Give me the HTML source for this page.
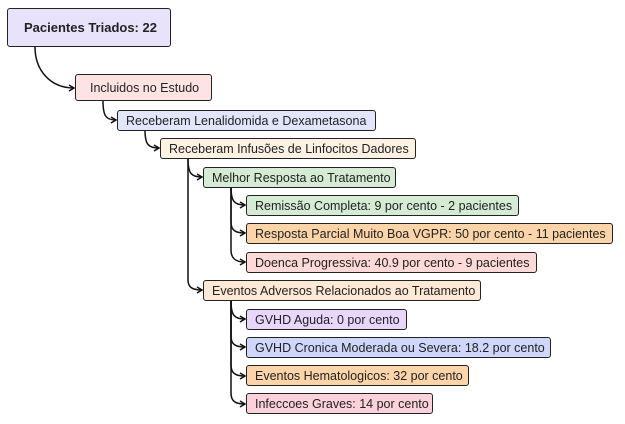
<!DOCTYPE html>
<html><head><meta charset="utf-8"><style>
body{margin:0;width:625px;height:424px;background:#fff;position:relative;overflow:hidden;font-family:"Liberation Sans",Arial,sans-serif}
.b{position:absolute;box-sizing:border-box;border:1.5px solid #222;border-radius:3px;font-size:12.5px;color:#222;padding-left:8px;display:flex;align-items:center;white-space:nowrap}
svg{position:absolute;left:0;top:0}
</style></head><body>
<svg width="625" height="424" fill="none" stroke="#111" stroke-width="1.5">
<defs><marker id="a" markerWidth="8" markerHeight="8" refX="6" refY="4" orient="auto" markerUnits="userSpaceOnUse"><path d="M1,1 L6,4 L1,7" stroke="#111" stroke-width="1.5" fill="none"/></marker></defs>
<path d="M35,47 C35,70 50,88 74,88" marker-end="url(#a)"/>
<path d="M103,101 C103,116 106,120 116,120" marker-end="url(#a)"/>
<path d="M145,130 C145,144 148,148 159,148" marker-end="url(#a)"/>
<path d="M188,159 C188,173 191,177 202,177" marker-end="url(#a)"/>
<path d="M188,159 L188,280 C188,287 192,290 202,290" marker-end="url(#a)"/>
<path d="M231,187 C231,201 234,205 245,205" marker-end="url(#a)"/>
<path d="M231,187 L231,222 C231,230 235,233 245,233" marker-end="url(#a)"/>
<path d="M231,187 L231,250 C231,258 235,262 245,262" marker-end="url(#a)"/>
<path d="M231,301 C231,315 234,319 245,319" marker-end="url(#a)"/>
<path d="M231,301 L231,336 C231,344 235,347 245,347" marker-end="url(#a)"/>
<path d="M231,301 L231,365 C231,373 235,376 245,376" marker-end="url(#a)"/>
<path d="M231,301 L231,393 C231,401 235,404 245,404" marker-end="url(#a)"/>
</svg>
<div class="b" style="left:7px;top:8px;width:164px;height:39px;background:#e9e2fb;font-weight:bold;font-size:13px;padding-left:16px">Pacientes Triados: 22</div>
<div class="b" style="left:75px;top:74px;width:137px;height:27px;background:#fde4e2;padding-left:14px">Incluidos no Estudo</div>
<div class="b" style="left:117px;top:110px;width:259px;height:21px;background:#e3e6fb">Receberam Lenalidomida e Dexametasona</div>
<div class="b" style="left:160px;top:138px;width:256px;height:21px;background:#fcf1e2">Receberam Infusões de Linfocitos Dadores</div>
<div class="b" style="left:203px;top:167px;width:193px;height:21px;background:#d5ebd4">Melhor Resposta ao Tratamento</div>
<div class="b" style="left:246px;top:195px;width:273px;height:21px;background:#d5ebd4">Remissão Completa: 9 por cento - 2 pacientes</div>
<div class="b" style="left:246px;top:223px;width:367px;height:21px;background:#fbd4aa">Resposta Parcial Muito Boa VGPR: 50 por cento - 11 pacientes</div>
<div class="b" style="left:246px;top:252px;width:291px;height:21px;background:#fdd9d7">Doenca Progressiva: 40.9 por cento - 9 pacientes</div>
<div class="b" style="left:203px;top:280px;width:278px;height:21px;background:#fde9d5">Eventos Adversos Relacionados ao Tratamento</div>
<div class="b" style="left:246px;top:309px;width:161px;height:21px;background:#e9d6fb">GVHD Aguda: 0 por cento</div>
<div class="b" style="left:246px;top:337px;width:305px;height:21px;background:#cfd7fb">GVHD Cronica Moderada ou Severa: 18.2 por cento</div>
<div class="b" style="left:246px;top:365px;width:223px;height:21px;background:#fbd4aa">Eventos Hematologicos: 32 por cento</div>
<div class="b" style="left:246px;top:393px;width:187px;height:21px;background:#fbd1dc">Infeccoes Graves: 14 por cento</div>
</body></html>
